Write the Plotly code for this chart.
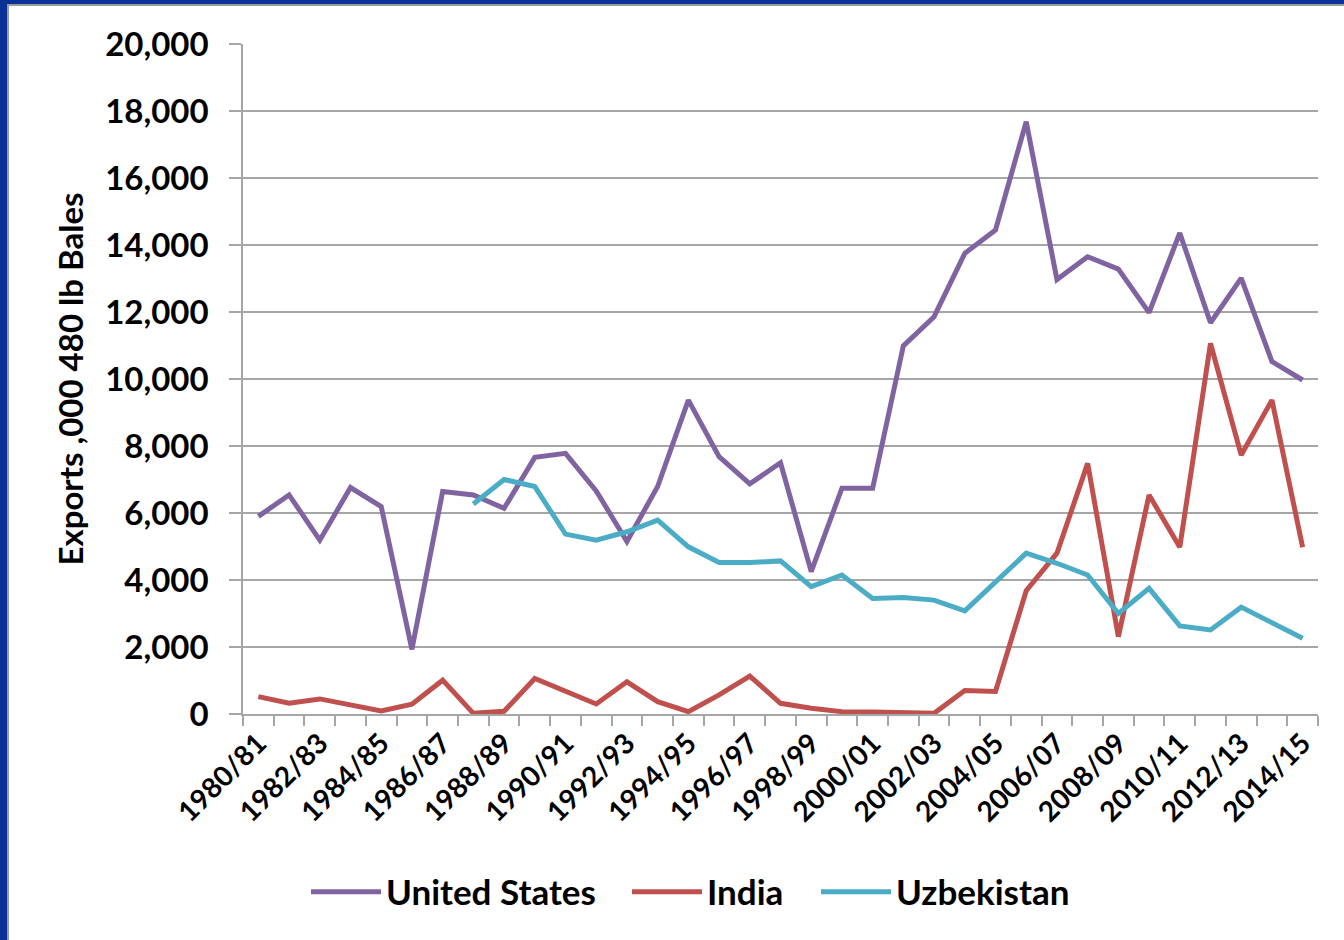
import plotly.graph_objects as go

# ── Data (thousand 480 lb bales) ─────────────────────────────────────
seasons = [
    "1980/81", "1981/82", "1982/83", "1983/84", "1984/85", "1985/86", "1986/87",
    "1987/88", "1988/89", "1989/90", "1990/91", "1991/92", "1992/93", "1993/94",
    "1994/95", "1995/96", "1996/97", "1997/98", "1998/99", "1999/00", "2000/01",
    "2001/02", "2002/03", "2003/04", "2004/05", "2005/06", "2006/07", "2007/08",
    "2008/09", "2009/10", "2010/11", "2011/12", "2012/13", "2013/14", "2014/15",
]

united_states = [
    5900, 6540, 5190, 6760, 6190, 1930, 6640, 6540, 6140, 7660, 7780, 6660,
    5150, 6790, 9370, 7680, 6870, 7500, 4250, 6740, 6740, 10990, 11860, 13750,
    14450, 17680, 12970, 13650, 13280, 11980, 14360, 11680, 13010, 10520, 9970,
]

india = [
    520, 320, 450, 280, 90, 290, 1010, 20, 80, 1060, 690, 300,
    960, 370, 70, 570, 1130, 320, 170, 70, 60, 40, 20, 700,
    670, 3680, 4800, 7480, 2310, 6540, 4980, 11060, 7730, 9370, 4980,
]

uzbekistan = [
    None, None, None, None, None, None, None, 6270, 7000, 6790, 5370, 5190,
    5440, 5790, 4990, 4520, 4520, 4570, 3800, 4150, 3450, 3480, 3400, 3080,
    3950, 4800, 4500, 4150, 3000, 3750, 2630, 2510, 3190, 2710, 2260,
]

series = [
    ("United States", united_states, "#8064A2"),
    ("India", india, "#C0504D"),
    ("Uzbekistan", uzbekistan, "#4BACC6"),
]

# Only every other season gets a label, but every season gets a tick.
tick_text = [s if i % 2 == 0 else "" for i, s in enumerate(seasons)]

W, H = 1344, 940
M_L, M_R, M_T, M_B = 243, 26, 44, 226
PLOT_W = W - M_L - M_R
PLOT_H = H - M_T - M_B


def px_x(px):
    return (px - M_L) / PLOT_W


def px_y(py):
    return (H - M_B - py) / PLOT_H


FONT = {"family": "Lato, 'Open Sans', sans-serif", "color": "#000000", "weight": "bold"}
GRID = "#A6A6A6"
FRAME = "#0A3296"

# one legend box per series so the entries can be spaced like the original
LEGEND_IDS = ["legend", "legend2", "legend3"]
LEGEND_LEFT = [306, 627, 816]

fig = go.Figure()

for (name, values, color), lg in zip(series, LEGEND_IDS):
    fig.add_trace(
        go.Scatter(
            x=seasons,
            y=values,
            name=name,
            mode="lines",
            line={"color": color, "width": 5},
            connectgaps=False,
            legend=lg,
        )
    )

# ── Slide frame (blue edge at top and left) ──────────────────────────
fig.add_shape(type="rect", xref="paper", yref="paper",
              x0=px_x(0), x1=px_x(W), y0=px_y(6), y1=px_y(0),
              fillcolor="#9A9A9A", line={"width": 0}, layer="above")
fig.add_shape(type="rect", xref="paper", yref="paper",
              x0=px_x(0), x1=px_x(9), y0=px_y(H), y1=px_y(0),
              fillcolor="#9A9A9A", line={"width": 0}, layer="above")
fig.add_shape(type="rect", xref="paper", yref="paper",
              x0=px_x(0), x1=px_x(W), y0=px_y(4), y1=px_y(0),
              fillcolor=FRAME, line={"width": 0}, layer="above")
fig.add_shape(type="rect", xref="paper", yref="paper",
              x0=px_x(0), x1=px_x(7), y0=px_y(H), y1=px_y(0),
              fillcolor=FRAME, line={"width": 0}, layer="above")

legend_style = {
    "orientation": "h",
    "xanchor": "left",
    "y": px_y(892),
    "yanchor": "middle",
    "font": {**FONT, "size": 35},
    "itemwidth": 70,
    "bgcolor": "rgba(0,0,0,0)",
}

fig.update_layout(
    width=W,
    height=H,
    margin={"l": M_L, "r": M_R, "t": M_T, "b": M_B},
    paper_bgcolor="#FFFFFF",
    plot_bgcolor="#FFFFFF",
    font={**FONT, "size": 30},
    showlegend=True,
    **{lg: {**legend_style, "x": px_x(left)} for lg, left in zip(LEGEND_IDS, LEGEND_LEFT)},
)

fig.update_xaxes(
    type="category",
    tickmode="array",
    tickvals=seasons,
    ticktext=tick_text,
    tickson="boundaries",
    tickangle=-45,
    ticks="outside",
    ticklen=10,
    tickwidth=1.5,
    tickcolor=GRID,
    tickfont={**FONT, "size": 28},
    showline=True,
    linecolor=GRID,
    linewidth=1.5,
    showgrid=False,
    range=[-0.5, len(seasons) - 0.5],
)

fig.update_yaxes(
    range=[0, 20000],
    tickvals=list(range(0, 20001, 2000)),
    tickformat=",d",
    ticks="outside",
    ticklen=12,
    tickwidth=1.5,
    tickcolor=GRID,
    tickfont={**FONT, "size": 33},
    ticklabelstandoff=14,
    showline=True,
    linecolor=GRID,
    linewidth=1.5,
    showgrid=True,
    gridcolor=GRID,
    gridwidth=1.5,
    zeroline=False,
    title={"text": "Exports ,000 480 lb Bales", "font": {**FONT, "size": 33}, "standoff": 12},
)

# The page body has a default 8px margin; drop it so the figure sits at 0,0.
fig.write_html(
    "out.html",
    config={"displayModeBar": False},
    post_script="document.body.style.margin='0';",
)
